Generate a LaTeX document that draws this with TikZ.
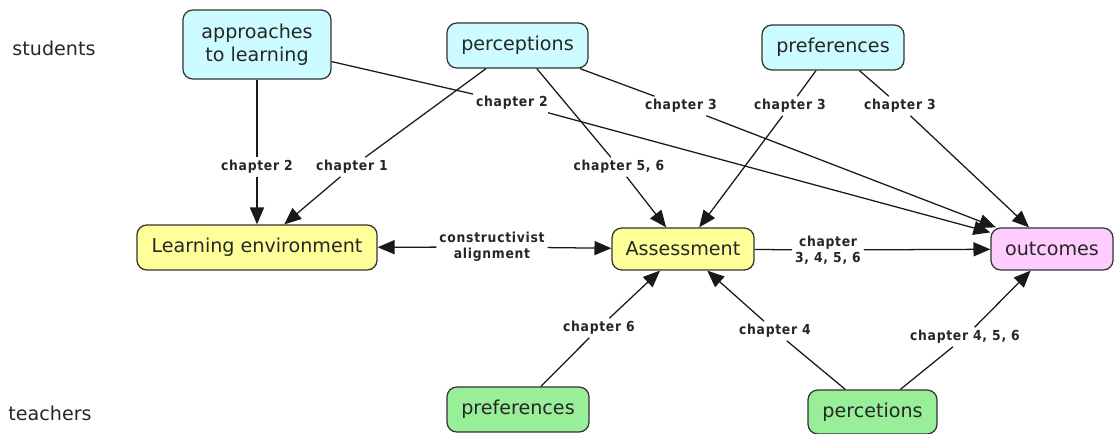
\documentclass[tikz,border=0pt]{standalone}
\usepackage{fontspec}
\setmainfont{DejaVu Sans}
\newfontfamily\chapfont[LetterSpace=5]{DejaVu Sans Condensed}
\usetikzlibrary{arrows.meta}

\definecolor{cyanbox}{HTML}{CCFCFF}
\definecolor{yellowbox}{HTML}{FFFF99}
\definecolor{pinkbox}{HTML}{FFCCFF}
\definecolor{greenbox}{HTML}{99EE99}

\begin{document}
\begin{tikzpicture}[x=0.025cm,y=-0.025cm]
\tikzstyle{lien}=[-{Triangle[length=12pt,width=10pt]},line width=0.9pt,draw=black!90]
\tikzstyle{trait}=[line width=0.9pt,draw=black!90]
\tikzset{concept/.style={draw=black!80,line width=0.9pt,rounded corners=7pt,fill=#1,
  text=black!85,font=\fontsize{13.6}{16}\selectfont,inner sep=0pt,align=center},
concept/.default={white},
chapitre/.style={font=\chapfont\bfseries\fontsize{9.8}{11.5}\selectfont,text=black!85,
  inner sep=2pt,align=center},
groupe/.style={font=\fontsize{13.6}{16}\selectfont,text=black!85}}
\useasboundingbox (0,0) rectangle (1114,434);

\node[groupe] (S) at (54,48) {students};
\node[groupe] (T) at (50,413) {teachers};

\node[concept=cyanbox,minimum width=3.7cm,minimum height=1.725cm] (A) at (257,44.5) {approaches\\to learning};
\node[concept=cyanbox,minimum width=3.525cm,minimum height=1.125cm] (P) at (517.5,45.5) {perceptions};
\node[concept=cyanbox,minimum width=3.55cm,minimum height=1.125cm] (F) at (833,47.5) {preferences};

\node[concept=yellowbox,minimum width=6cm,minimum height=1.125cm] (LE) at (257,247.5) {Learning environment};
\node[concept=yellowbox,minimum width=3.55cm,minimum height=1.05cm] (AS) at (683,249) {Assessment};
\node[concept=pinkbox,minimum width=3.05cm,minimum height=1.05cm] (O) at (1052,249) {outcomes};

\node[concept=greenbox,minimum width=3.55cm,minimum height=1.125cm] (TF) at (518,409.5) {preferences};
\node[concept=greenbox,minimum width=3.225cm,minimum height=1.1cm] (TP) at (872.5,412) {percetions};

\node[chapitre] (c1) at (257,167) {chapter 2};
\node[chapitre] (c2) at (352,167) {chapter 1};
\node[chapitre] (c3) at (512,103) {chapter 2};
\node[chapitre] (c4) at (619,167) {chapter 5, 6};
\node[chapitre] (c5) at (681,106) {chapter 3};
\node[chapitre] (c6) at (790,106) {chapter 3};
\node[chapitre] (c7) at (900,106) {chapter 3};
\node[chapitre] (c8) at (492,247) {constructivist\\alignment};
\node[chapitre] (c9) at (828,250) {chapter\\3, 4, 5, 6};
\node[chapitre] (c10) at (599,328) {chapter 6};
\node[chapitre] (c11) at (775,331) {chapter 4};
\node[chapitre] (c12) at (965,337) {chapter 4, 5, 6};

\draw[trait] (A) -- (c1);
\draw[lien] (c1) -- (LE);
\draw[trait] (P) -- (c2);
\draw[lien] (c2) -- (LE);
\draw[trait] (A) -- (c3);
\draw[lien] (c3) -- (O);
\draw[trait] (P) -- (c4);
\draw[lien] (c4) -- (AS);
\draw[trait] (P) -- (c5);
\draw[lien] (c5) -- (O);
\draw[trait] (F) -- (c6);
\draw[lien] (c6) -- (AS);
\draw[trait] (F) -- (c7);
\draw[lien] (c7) -- (O);

\draw[lien] (c8) -- (LE);
\draw[lien] (c8) -- (AS);
\draw[trait] (AS) -- (c9);
\draw[lien] (c9) -- (O);

\draw[trait] (TF) -- (c10);
\draw[lien] (c10) -- (AS);
\draw[trait] (TP) -- (c11);
\draw[lien] (c11) -- (AS);
\draw[trait] (TP) -- (c12);
\draw[lien] (c12) -- (O);

\end{tikzpicture}
\end{document}
